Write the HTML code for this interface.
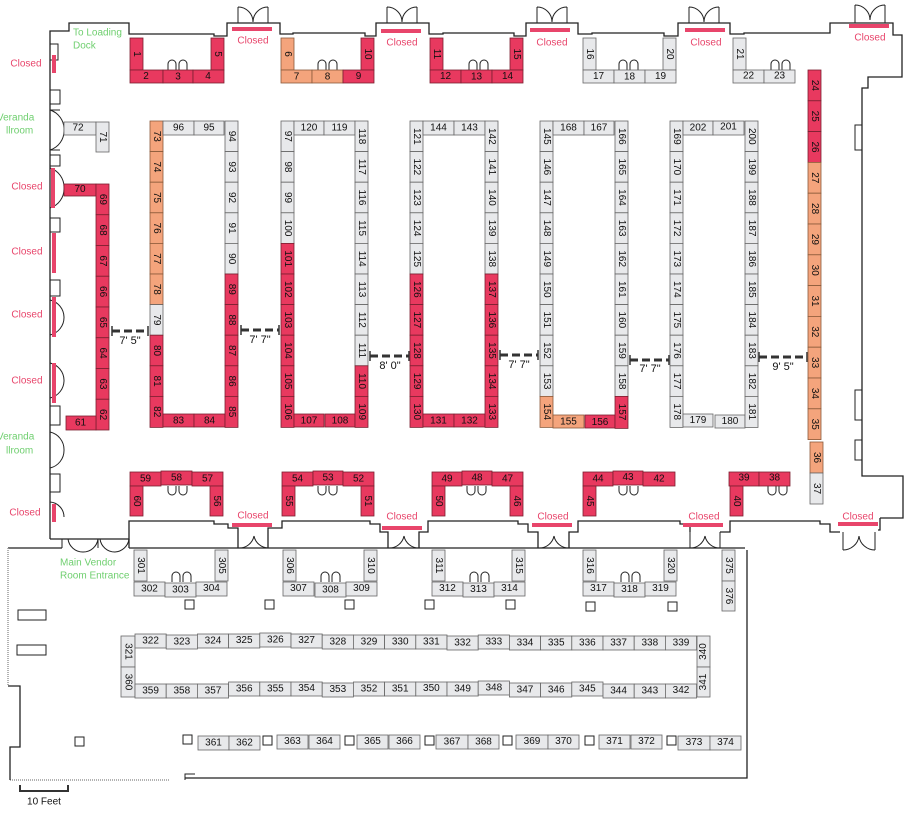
<!DOCTYPE html>
<html><head><meta charset="utf-8"><style>
html,body{margin:0;padding:0;background:#fff;}
svg{display:block}
text{font-family:"Liberation Sans",sans-serif;font-size:10px;text-anchor:middle;dominant-baseline:central;fill:#111}
.r{fill:#e8395f;stroke:#7a2030;stroke-width:.8}
.o{fill:#f4a47c;stroke:#8a5a3a;stroke-width:.8}
.g{fill:#e8e9eb;stroke:#666;stroke-width:.8}
.w{fill:none;stroke:#222;stroke-width:1.3}
.cl{fill:#e8456b;font-size:10px}
.gr{fill:#6fcf6f;font-size:10px;text-anchor:start}
.bar{fill:#e8456b}
.dim{stroke:#333;stroke-width:3;stroke-dasharray:8 4;fill:none}
.dt{font-size:11px}
.p{fill:#fff;stroke:#222;stroke-width:1}
.d{fill:none;stroke:#222;stroke-width:1}
</style></head><body>
<svg width="915" height="815" viewBox="0 0 915 815" xmlns="http://www.w3.org/2000/svg">
<!-- walls -->
<path class="w" d="M50,539 V31 H69 V23 H129 V34 H214 V36 H227 V23 H280 V34 H293 V33 H365 V36 H376 V23 H429 V34 H443 V33 H514 V36 H526 V23 H578 V34 H592 V33 H664 V36 H678 V23 H730 V34 H744 V33 H818 V33 H830 V23 H893 V35 H902 V77 H868 V88 H862 V476 H903 V518 H880"/>
<path class="w" d="M50,539 H129 V521 H214 V524 H228 V528 H238 V548 M268,548 V528 H282 V521 H370 V524 H380 V532 H388 V548 M419,548 V532 H428 V521 H518 V524 H528 V532 H538 V548 M569,548 V532 H578 V521 H680 V524 H690 V532 M720,532 H730 V521 H820 V524 H830 V532 H840 M880,518 V530 H878"/>
<path class="w" d="M129,548 H745 M747,550 V778 H185 M8,548 H62 M129,548 V539"/>
<path d="M8,548 V686 M10,780 H170" stroke="#999" stroke-width="1.5" stroke-dasharray="1 1" fill="none"/>
<path class="w" d="M8,686 H20 V747 H10 V780"/>
<!-- door arcs -->
<path class="d" d="M238,23 V7 M268,23 V7 M238,7 A15,15 0 0 1 253,22 M268,7 A15,15 0 0 0 253,22 M387,23 V7 M417,23 V7 M387,7 A15,15 0 0 1 402,22 M417,7 A15,15 0 0 0 402,22 M537,23 V7 M567,23 V7 M537,7 A15,15 0 0 1 552,22 M567,7 A15,15 0 0 0 552,22 M689,23 V7 M719,23 V7 M689,7 A15,15 0 0 1 704,22 M719,7 A15,15 0 0 0 704,22 M855,23 V5 M885,23 V5 M855,5 A15,15 0 0 1 870,20 M885,5 A15,15 0 0 0 870,20"/>
<path class="d" d="M239,548 A15,15 0 0 0 254,536 M268,548 A15,15 0 0 1 254,536 M389,548 A15,15 0 0 0 404,536 M419,548 A15,15 0 0 1 404,536 M539,548 A15,15 0 0 0 554,536 M569,548 A15,15 0 0 1 554,536 M690,548 V532 M720,548 V532 M690,548 A15,15 0 0 0 705,536 M720,548 A15,15 0 0 1 705,536 M843,550 V532 M875,550 V532 M843,550 A16,16 0 0 0 859,536 M875,550 A16,16 0 0 1 859,536"/>
<path class="d" d="M62,539 V548 M98,539 V548 M129,539 V548 M68,539 A15,15 0 0 0 83,552 M98,539 A15,15 0 0 1 83,552 M100,539 A15,15 0 0 0 115,552 M129,539 A15,15 0 0 1 115,552"/>
<path class="d" d="M50,110 H60 M50,150 H60 M50,110 A20,20 0 0 1 64,130 M50,150 A20,20 0 0 0 64,130 M50,168 A20,20 0 0 1 64,188 M50,208 A20,20 0 0 0 64,188 M50,300 A18,18 0 0 1 64,317 M50,335 A18,18 0 0 0 64,317 M50,363 A18,18 0 0 1 64,380 M50,398 A18,18 0 0 0 64,380 M50,432 A18,18 0 0 1 64,450 M50,468 A18,18 0 0 0 64,450 M50,502 A15,15 0 0 1 64,517"/>
<path class="d" d="M50,44 H58 V60 H50 M50,90 H60 V104 H50 M50,155 H60 V166 H50 M50,218 H60 V232 H50 M50,280 H60 V296 H50 M50,406 H60 V425 H50 M50,474 H60 V492 H50 M862,150 H855 V125 H862 M862,390 H855 V420 H862 M862,440 H855 V460 H862"/>
<!-- small arches -->
<path class="d" d="M168,70 V64 A4,4 0 0 1 176,64 V70 M179,70 V64 A4,4 0 0 1 187,64 V70 M318,70 V64 A4,4 0 0 1 326,64 V70 M329,70 V64 A4,4 0 0 1 337,64 V70 M469,70 V64 A4,4 0 0 1 477,64 V70 M480,70 V64 A4,4 0 0 1 488,64 V70 M619,70 V64 A4,4 0 0 1 627,64 V70 M630,70 V64 A4,4 0 0 1 638,64 V70 M771,70 V64 A4,4 0 0 1 779,64 V70 M782,70 V64 A4,4 0 0 1 790,64 V70"/>
<path class="d" d="M168,486 V491 A4,4 0 0 0 176,491 V486 M179,486 V491 A4,4 0 0 0 187,491 V486 M318,486 V491 A4,4 0 0 0 326,491 V486 M329,486 V491 A4,4 0 0 0 337,491 V486 M467,486 V491 A4,4 0 0 0 475,491 V486 M478,486 V491 A4,4 0 0 0 486,491 V486 M619,486 V491 A4,4 0 0 0 627,491 V486 M630,486 V491 A4,4 0 0 0 638,491 V486 M768,486 V491 A4,4 0 0 0 776,491 V486 M779,486 V491 A4,4 0 0 0 787,491 V486"/>
<path class="d" d="M172,582 V576 A4,4 0 0 1 180,576 V582 M183,582 V576 A4,4 0 0 1 191,576 V582 M321,582 V576 A4,4 0 0 1 329,576 V582 M332,582 V576 A4,4 0 0 1 340,576 V582 M470,582 V576 A4,4 0 0 1 478,576 V582 M481,582 V576 A4,4 0 0 1 489,576 V582 M621,582 V576 A4,4 0 0 1 629,576 V582 M632,582 V576 A4,4 0 0 1 640,576 V582"/>

<!-- closed bars & labels -->
<rect class="bar" x="232" y="27" width="40" height="4"/><text class="cl" x="253" y="41">Closed</text>
<rect class="bar" x="381" y="29" width="40" height="4"/><text class="cl" x="402" y="43">Closed</text>
<rect class="bar" x="530" y="28" width="40" height="4"/><text class="cl" x="552" y="43">Closed</text>
<rect class="bar" x="685" y="28" width="40" height="4"/><text class="cl" x="706" y="43">Closed</text>
<rect class="bar" x="849" y="24" width="40" height="4"/><text class="cl" x="870" y="38">Closed</text>
<rect class="bar" x="52" y="55" width="4" height="18"/><text class="cl" x="26" y="64">Closed</text>
<rect class="bar" x="51" y="168" width="4" height="40"/><text class="cl" x="27" y="187">Closed</text>
<rect class="bar" x="52" y="233" width="4" height="40"/><text class="cl" x="27" y="252">Closed</text>
<rect class="bar" x="52" y="297" width="4" height="40"/><text class="cl" x="27" y="315">Closed</text>
<rect class="bar" x="52" y="363" width="4" height="40"/><text class="cl" x="27" y="381">Closed</text>
<rect class="bar" x="52" y="504" width="4" height="18"/><text class="cl" x="25" y="513">Closed</text>
<rect class="bar" x="232" y="523" width="40" height="4"/><text class="cl" x="253" y="516">Closed</text>
<rect class="bar" x="382" y="526" width="40" height="4"/><text class="cl" x="402" y="517">Closed</text>
<rect class="bar" x="532" y="523" width="40" height="4"/><text class="cl" x="553" y="517">Closed</text>
<rect class="bar" x="683" y="523" width="40" height="4"/><text class="cl" x="704" y="517">Closed</text>
<rect class="bar" x="838" y="522" width="40" height="4"/><text class="cl" x="858" y="517">Closed</text>

<text class="gr" x="73" y="33">To Loading</text><text class="gr" x="73" y="46">Dock</text>
<text class="gr" x="-3" y="118">Veranda</text><text class="gr" x="6" y="131">llroom</text>
<text class="gr" x="-3" y="437">Veranda</text><text class="gr" x="6" y="451">llroom</text>
<text class="gr" x="60" y="563">Main Vendor</text><text class="gr" x="60" y="576">Room Entrance</text>

<!-- dimension lines -->
<path class="dim" d="M112,331 H148"/><path d="M112,326 V336 M148,326 V336" stroke="#333" stroke-width="1.5"/><text class="dt" x="130" y="341">7' 5"</text>
<path class="dim" d="M241,330 H279"/><path d="M241,325 V335 M279,325 V335" stroke="#333" stroke-width="1.5"/><text class="dt" x="260" y="340">7' 7"</text>
<path class="dim" d="M370,356 H409"/><path d="M370,351 V361 M409,351 V361" stroke="#333" stroke-width="1.5"/><text class="dt" x="390" y="366">8' 0"</text>
<path class="dim" d="M500,355 H538"/><path d="M500,350 V360 M538,350 V360" stroke="#333" stroke-width="1.5"/><text class="dt" x="519" y="365">7' 7"</text>
<path class="dim" d="M630,360 H669"/><path d="M630,355 V365 M669,355 V365" stroke="#333" stroke-width="1.5"/><text class="dt" x="650" y="369">7' 7"</text>
<path class="dim" d="M759,357 H807"/><path d="M759,352 V362 M807,352 V362" stroke="#333" stroke-width="1.5"/><text class="dt" x="783" y="367">9' 5"</text>

<!-- pillars -->
<rect class="p" x="185" y="600" width="9" height="9"/><rect class="p" x="265" y="600" width="9" height="9"/><rect class="p" x="345" y="600" width="9" height="9"/><rect class="p" x="425" y="600" width="9" height="9"/><rect class="p" x="506" y="600" width="9" height="9"/><rect class="p" x="586" y="602" width="9" height="9"/><rect class="p" x="668" y="602" width="9" height="9"/>
<rect class="p" x="75" y="737" width="9" height="9"/><rect class="p" x="183" y="735" width="9" height="9"/><rect class="p" x="263" y="736" width="9" height="9"/><rect class="p" x="345" y="736" width="9" height="9"/><rect class="p" x="425" y="736" width="9" height="9"/><rect class="p" x="503" y="736" width="9" height="9"/><rect class="p" x="585" y="736" width="9" height="9"/><rect class="p" x="667" y="736" width="9" height="9"/>
<rect class="p" x="18" y="610" width="28" height="10"/><rect class="p" x="17" y="645" width="29" height="10"/>
<path class="d" d="M185,780 V774 H195"/>
<path d="M20,785 V791 H68 V785" stroke="#333" stroke-width="2" fill="none"/><text x="44" y="802">10 Feet</text>

<!-- top groups -->
<rect class="r" x="130" y="38" width="13" height="32"/><text x="136.5" y="54" transform="rotate(90 136.5 54)">1</text>
<rect class="r" x="211" y="38" width="13" height="32"/><text x="217.5" y="54" transform="rotate(90 217.5 54)">5</text>
<rect class="r" x="130" y="70" width="33" height="13"/><text x="146" y="76.5">2</text>
<rect class="r" x="163" y="70" width="30" height="13"/><text x="178" y="77">3</text>
<rect class="r" x="193" y="70" width="31" height="13"/><text x="208" y="76.5">4</text>
<rect class="o" x="281" y="38" width="13" height="32"/><text x="287.5" y="54" transform="rotate(90 287.5 54)">6</text>
<rect class="r" x="361" y="38" width="13" height="32"/><text x="367.5" y="54" transform="rotate(90 367.5 54)">10</text>
<rect class="o" x="281" y="70" width="31" height="13"/><text x="296.5" y="77">7</text>
<rect class="o" x="312" y="70" width="31" height="13"/><text x="327.5" y="77">8</text>
<rect class="r" x="343" y="70" width="31" height="13"/><text x="358.5" y="76.5">9</text>
<rect class="r" x="430" y="38" width="13" height="32"/><text x="436.5" y="54" transform="rotate(90 436.5 54)">11</text>
<rect class="r" x="510" y="38" width="13" height="32"/><text x="516.5" y="54" transform="rotate(90 516.5 54)">15</text>
<rect class="r" x="430" y="70" width="31" height="13"/><text x="445.5" y="76.5">12</text>
<rect class="r" x="461" y="70" width="31" height="13"/><text x="476.5" y="77">13</text>
<rect class="r" x="492" y="70" width="31" height="13"/><text x="507.5" y="76.5">14</text>
<rect class="g" x="583" y="38" width="13" height="32"/><text x="589.5" y="54" transform="rotate(90 589.5 54)">16</text>
<rect class="g" x="663" y="38" width="13" height="32"/><text x="669.5" y="54" transform="rotate(90 669.5 54)">20</text>
<rect class="g" x="583" y="70" width="31" height="13"/><text x="598.5" y="76.5">17</text>
<rect class="g" x="614" y="70" width="31" height="13"/><text x="629.5" y="77">18</text>
<rect class="g" x="645" y="70" width="31" height="13"/><text x="660.5" y="76.5">19</text>
<rect class="g" x="733" y="38" width="13" height="32"/><text x="739.5" y="54" transform="rotate(90 739.5 54)">21</text>
<rect class="g" x="733" y="70" width="31" height="13"/><text x="748.5" y="76">22</text>
<rect class="g" x="764" y="70" width="31" height="13"/><text x="779.5" y="76">23</text>

<!-- right column 24-37 -->
<rect class="r" x="808" y="70" width="13" height="30.8"/><text x="814.5" y="85.4" transform="rotate(90 814.5 85.4)">24</text>
<rect class="r" x="808" y="100.8" width="13" height="30.8"/><text x="814.5" y="116.2" transform="rotate(90 814.5 116.2)">25</text>
<rect class="r" x="808" y="131.6" width="13" height="30.8"/><text x="814.5" y="147" transform="rotate(90 814.5 147)">26</text>
<rect class="o" x="808" y="162.4" width="13" height="30.8"/><text x="814.5" y="177.8" transform="rotate(90 814.5 177.8)">27</text>
<rect class="o" x="808" y="193.2" width="13" height="30.8"/><text x="814.5" y="208.6" transform="rotate(90 814.5 208.6)">28</text>
<rect class="o" x="808" y="224" width="13" height="30.8"/><text x="814.5" y="239.4" transform="rotate(90 814.5 239.4)">29</text>
<rect class="o" x="808" y="254.8" width="13" height="30.8"/><text x="814.5" y="270.2" transform="rotate(90 814.5 270.2)">30</text>
<rect class="o" x="808" y="285.6" width="13" height="30.8"/><text x="814.5" y="301" transform="rotate(90 814.5 301)">31</text>
<rect class="o" x="808" y="316.4" width="13" height="30.8"/><text x="814.5" y="331.8" transform="rotate(90 814.5 331.8)">32</text>
<rect class="o" x="808" y="347.2" width="13" height="30.8"/><text x="814.5" y="362.6" transform="rotate(90 814.5 362.6)">33</text>
<rect class="o" x="808" y="378" width="13" height="30.8"/><text x="814.5" y="393.4" transform="rotate(90 814.5 393.4)">34</text>
<rect class="o" x="808" y="408.8" width="13" height="30.8"/><text x="814.5" y="424.2" transform="rotate(90 814.5 424.2)">35</text>
<rect class="o" x="810" y="442" width="13" height="31"/><text x="816.5" y="457.5" transform="rotate(90 816.5 457.5)">36</text>
<rect class="g" x="810" y="473" width="13" height="31"/><text x="816.5" y="488.5" transform="rotate(90 816.5 488.5)">37</text>

<!-- left column 61-72 -->
<rect class="g" x="64" y="122" width="32" height="13"/><text x="78" y="128">72</text>
<rect class="g" x="96" y="122" width="13" height="30"/><text x="102.5" y="137" transform="rotate(90 102.5 137)">71</text>
<rect class="r" x="64" y="184" width="32" height="12"/><text x="80" y="189.5">70</text>
<rect class="r" x="96" y="184" width="13" height="30.75"/><text x="102.5" y="199.4" transform="rotate(90 102.5 199.4)">69</text>
<rect class="r" x="96" y="214.75" width="13" height="30.75"/><text x="102.5" y="230.1" transform="rotate(90 102.5 230.1)">68</text>
<rect class="r" x="96" y="245.5" width="13" height="30.75"/><text x="102.5" y="260.9" transform="rotate(90 102.5 260.9)">67</text>
<rect class="r" x="96" y="276.25" width="13" height="30.75"/><text x="102.5" y="291.6" transform="rotate(90 102.5 291.6)">66</text>
<rect class="r" x="96" y="307" width="13" height="30.75"/><text x="102.5" y="322.4" transform="rotate(90 102.5 322.4)">65</text>
<rect class="r" x="96" y="337.75" width="13" height="30.75"/><text x="102.5" y="353.1" transform="rotate(90 102.5 353.1)">64</text>
<rect class="r" x="96" y="368.5" width="13" height="30.75"/><text x="102.5" y="383.9" transform="rotate(90 102.5 383.9)">63</text>
<rect class="r" x="96" y="399.25" width="13" height="30.75"/><text x="102.5" y="414.6" transform="rotate(90 102.5 414.6)">62</text>
<rect class="r" x="66" y="416" width="30" height="14"/><text x="80.5" y="423">61</text>

<!-- U1 -->
<rect class="o" x="150" y="121" width="13" height="30.6"/><text x="156.5" y="136.3" transform="rotate(90 156.5 136.3)">73</text>
<rect class="o" x="150" y="151.6" width="13" height="30.6"/><text x="156.5" y="166.9" transform="rotate(90 156.5 166.9)">74</text>
<rect class="o" x="150" y="182.2" width="13" height="30.6"/><text x="156.5" y="197.5" transform="rotate(90 156.5 197.5)">75</text>
<rect class="o" x="150" y="212.8" width="13" height="30.6"/><text x="156.5" y="228.1" transform="rotate(90 156.5 228.1)">76</text>
<rect class="o" x="150" y="243.4" width="13" height="30.6"/><text x="156.5" y="258.7" transform="rotate(90 156.5 258.7)">77</text>
<rect class="o" x="150" y="274" width="13" height="30.6"/><text x="156.5" y="289.3" transform="rotate(90 156.5 289.3)">78</text>
<rect class="g" x="150" y="304.6" width="13" height="30.6"/><text x="156.5" y="319.9" transform="rotate(90 156.5 319.9)">79</text>
<rect class="r" x="150" y="335.2" width="13" height="30.6"/><text x="156.5" y="350.5" transform="rotate(90 156.5 350.5)">80</text>
<rect class="r" x="150" y="365.8" width="13" height="30.6"/><text x="156.5" y="381.1" transform="rotate(90 156.5 381.1)">81</text>
<rect class="r" x="150" y="396.4" width="13" height="31"/><text x="156.5" y="411.7" transform="rotate(90 156.5 411.7)">82</text>
<rect class="g" x="163" y="121" width="31" height="14"/><text x="178.5" y="128">96</text>
<rect class="g" x="194" y="121" width="30" height="14"/><text x="209" y="128">95</text>
<rect class="r" x="163" y="414" width="31" height="13"/><text x="178.5" y="421">83</text>
<rect class="r" x="194" y="414" width="31" height="13"/><text x="209.5" y="421">84</text>
<rect class="g" x="225" y="121" width="13" height="30.6"/><text x="231.5" y="136.3" transform="rotate(90 231.5 136.3)">94</text>
<rect class="g" x="225" y="151.6" width="13" height="30.6"/><text x="231.5" y="166.9" transform="rotate(90 231.5 166.9)">93</text>
<rect class="g" x="225" y="182.2" width="13" height="30.6"/><text x="231.5" y="197.5" transform="rotate(90 231.5 197.5)">92</text>
<rect class="g" x="225" y="212.8" width="13" height="30.6"/><text x="231.5" y="228.1" transform="rotate(90 231.5 228.1)">91</text>
<rect class="g" x="225" y="243.4" width="13" height="30.6"/><text x="231.5" y="258.7" transform="rotate(90 231.5 258.7)">90</text>
<rect class="r" x="225" y="274" width="13" height="30.6"/><text x="231.5" y="289.3" transform="rotate(90 231.5 289.3)">89</text>
<rect class="r" x="225" y="304.6" width="13" height="30.6"/><text x="231.5" y="319.9" transform="rotate(90 231.5 319.9)">88</text>
<rect class="r" x="225" y="335.2" width="13" height="30.6"/><text x="231.5" y="350.5" transform="rotate(90 231.5 350.5)">87</text>
<rect class="r" x="225" y="365.8" width="13" height="30.6"/><text x="231.5" y="381.1" transform="rotate(90 231.5 381.1)">86</text>
<rect class="r" x="225" y="396.4" width="13" height="31"/><text x="231.5" y="411.7" transform="rotate(90 231.5 411.7)">85</text>

<!-- U2 -->
<rect class="g" x="281" y="121" width="13" height="30.6"/><text x="287.5" y="136.3" transform="rotate(90 287.5 136.3)">97</text>
<rect class="g" x="281" y="151.6" width="13" height="30.6"/><text x="287.5" y="166.9" transform="rotate(90 287.5 166.9)">98</text>
<rect class="g" x="281" y="182.2" width="13" height="30.6"/><text x="287.5" y="197.5" transform="rotate(90 287.5 197.5)">99</text>
<rect class="g" x="281" y="212.8" width="13" height="30.6"/><text x="287.5" y="228.1" transform="rotate(90 287.5 228.1)">100</text>
<rect class="r" x="281" y="243.4" width="13" height="30.6"/><text x="287.5" y="258.7" transform="rotate(90 287.5 258.7)">101</text>
<rect class="r" x="281" y="274" width="13" height="30.6"/><text x="287.5" y="289.3" transform="rotate(90 287.5 289.3)">102</text>
<rect class="r" x="281" y="304.6" width="13" height="30.6"/><text x="287.5" y="319.9" transform="rotate(90 287.5 319.9)">103</text>
<rect class="r" x="281" y="335.2" width="13" height="30.6"/><text x="287.5" y="350.5" transform="rotate(90 287.5 350.5)">104</text>
<rect class="r" x="281" y="365.8" width="13" height="30.6"/><text x="287.5" y="381.1" transform="rotate(90 287.5 381.1)">105</text>
<rect class="r" x="281" y="396.4" width="13" height="31"/><text x="287.5" y="411.7" transform="rotate(90 287.5 411.7)">106</text>
<rect class="g" x="294" y="121" width="30" height="14"/><text x="309" y="128">120</text>
<rect class="g" x="324" y="121" width="31" height="14"/><text x="339.5" y="128">119</text>
<rect class="r" x="294" y="414" width="30" height="13"/><text x="309" y="421">107</text>
<rect class="r" x="325" y="414" width="30" height="13"/><text x="340" y="421">108</text>
<rect class="g" x="355" y="121" width="13" height="30.6"/><text x="361.5" y="136.3" transform="rotate(90 361.5 136.3)">118</text>
<rect class="g" x="355" y="151.6" width="13" height="30.6"/><text x="361.5" y="166.9" transform="rotate(90 361.5 166.9)">117</text>
<rect class="g" x="355" y="182.2" width="13" height="30.6"/><text x="361.5" y="197.5" transform="rotate(90 361.5 197.5)">116</text>
<rect class="g" x="355" y="212.8" width="13" height="30.6"/><text x="361.5" y="228.1" transform="rotate(90 361.5 228.1)">115</text>
<rect class="g" x="355" y="243.4" width="13" height="30.6"/><text x="361.5" y="258.7" transform="rotate(90 361.5 258.7)">114</text>
<rect class="g" x="355" y="274" width="13" height="30.6"/><text x="361.5" y="289.3" transform="rotate(90 361.5 289.3)">113</text>
<rect class="g" x="355" y="304.6" width="13" height="30.6"/><text x="361.5" y="319.9" transform="rotate(90 361.5 319.9)">112</text>
<rect class="g" x="355" y="335.2" width="13" height="30.6"/><text x="361.5" y="350.5" transform="rotate(90 361.5 350.5)">111</text>
<rect class="r" x="355" y="365.8" width="13" height="30.6"/><text x="361.5" y="381.1" transform="rotate(90 361.5 381.1)">110</text>
<rect class="r" x="355" y="396.4" width="13" height="31"/><text x="361.5" y="411.7" transform="rotate(90 361.5 411.7)">109</text>

<!-- U3 -->
<rect class="g" x="410" y="121" width="13" height="30.6"/><text x="416.5" y="136.3" transform="rotate(90 416.5 136.3)">121</text>
<rect class="g" x="410" y="151.6" width="13" height="30.6"/><text x="416.5" y="166.9" transform="rotate(90 416.5 166.9)">122</text>
<rect class="g" x="410" y="182.2" width="13" height="30.6"/><text x="416.5" y="197.5" transform="rotate(90 416.5 197.5)">123</text>
<rect class="g" x="410" y="212.8" width="13" height="30.6"/><text x="416.5" y="228.1" transform="rotate(90 416.5 228.1)">124</text>
<rect class="g" x="410" y="243.4" width="13" height="30.6"/><text x="416.5" y="258.7" transform="rotate(90 416.5 258.7)">125</text>
<rect class="r" x="410" y="274" width="13" height="30.6"/><text x="416.5" y="289.3" transform="rotate(90 416.5 289.3)">126</text>
<rect class="r" x="410" y="304.6" width="13" height="30.6"/><text x="416.5" y="319.9" transform="rotate(90 416.5 319.9)">127</text>
<rect class="r" x="410" y="335.2" width="13" height="30.6"/><text x="416.5" y="350.5" transform="rotate(90 416.5 350.5)">128</text>
<rect class="r" x="410" y="365.8" width="13" height="30.6"/><text x="416.5" y="381.1" transform="rotate(90 416.5 381.1)">129</text>
<rect class="r" x="410" y="396.4" width="13" height="31"/><text x="416.5" y="411.7" transform="rotate(90 416.5 411.7)">130</text>
<rect class="g" x="423" y="121" width="31" height="14"/><text x="438.5" y="128">144</text>
<rect class="g" x="454" y="121" width="31" height="14"/><text x="469.5" y="128">143</text>
<rect class="r" x="423" y="414" width="31" height="13"/><text x="438.5" y="421">131</text>
<rect class="r" x="454" y="414" width="31" height="13"/><text x="469.5" y="421">132</text>
<rect class="g" x="485" y="121" width="13" height="30.6"/><text x="491.5" y="136.3" transform="rotate(90 491.5 136.3)">142</text>
<rect class="g" x="485" y="151.6" width="13" height="30.6"/><text x="491.5" y="166.9" transform="rotate(90 491.5 166.9)">141</text>
<rect class="g" x="485" y="182.2" width="13" height="30.6"/><text x="491.5" y="197.5" transform="rotate(90 491.5 197.5)">140</text>
<rect class="g" x="485" y="212.8" width="13" height="30.6"/><text x="491.5" y="228.1" transform="rotate(90 491.5 228.1)">139</text>
<rect class="g" x="485" y="243.4" width="13" height="30.6"/><text x="491.5" y="258.7" transform="rotate(90 491.5 258.7)">138</text>
<rect class="r" x="485" y="274" width="13" height="30.6"/><text x="491.5" y="289.3" transform="rotate(90 491.5 289.3)">137</text>
<rect class="r" x="485" y="304.6" width="13" height="30.6"/><text x="491.5" y="319.9" transform="rotate(90 491.5 319.9)">136</text>
<rect class="r" x="485" y="335.2" width="13" height="30.6"/><text x="491.5" y="350.5" transform="rotate(90 491.5 350.5)">135</text>
<rect class="r" x="485" y="365.8" width="13" height="30.6"/><text x="491.5" y="381.1" transform="rotate(90 491.5 381.1)">134</text>
<rect class="r" x="485" y="396.4" width="13" height="31"/><text x="491.5" y="411.7" transform="rotate(90 491.5 411.7)">133</text>

<!-- U4 -->
<rect class="g" x="540" y="121" width="13" height="30.6"/><text x="546.5" y="136.3" transform="rotate(90 546.5 136.3)">145</text>
<rect class="g" x="540" y="151.6" width="13" height="30.6"/><text x="546.5" y="166.9" transform="rotate(90 546.5 166.9)">146</text>
<rect class="g" x="540" y="182.2" width="13" height="30.6"/><text x="546.5" y="197.5" transform="rotate(90 546.5 197.5)">147</text>
<rect class="g" x="540" y="212.8" width="13" height="30.6"/><text x="546.5" y="228.1" transform="rotate(90 546.5 228.1)">148</text>
<rect class="g" x="540" y="243.4" width="13" height="30.6"/><text x="546.5" y="258.7" transform="rotate(90 546.5 258.7)">149</text>
<rect class="g" x="540" y="274" width="13" height="30.6"/><text x="546.5" y="289.3" transform="rotate(90 546.5 289.3)">150</text>
<rect class="g" x="540" y="304.6" width="13" height="30.6"/><text x="546.5" y="319.9" transform="rotate(90 546.5 319.9)">151</text>
<rect class="g" x="540" y="335.2" width="13" height="30.6"/><text x="546.5" y="350.5" transform="rotate(90 546.5 350.5)">152</text>
<rect class="g" x="540" y="365.8" width="13" height="30.6"/><text x="546.5" y="381.1" transform="rotate(90 546.5 381.1)">153</text>
<rect class="o" x="540" y="396.4" width="13" height="31"/><text x="546.5" y="411.7" transform="rotate(90 546.5 411.7)">154</text>
<rect class="g" x="553" y="121" width="31" height="14"/><text x="568.5" y="128">168</text>
<rect class="g" x="584" y="121" width="30" height="14"/><text x="599" y="128">167</text>
<rect class="o" x="553" y="415" width="31" height="13"/><text x="568.5" y="422">155</text>
<rect class="r" x="585" y="415" width="30" height="13"/><text x="600" y="422.5">156</text>
<rect class="g" x="615" y="121" width="13" height="30.6"/><text x="621.5" y="136.3" transform="rotate(90 621.5 136.3)">166</text>
<rect class="g" x="615" y="151.6" width="13" height="30.6"/><text x="621.5" y="166.9" transform="rotate(90 621.5 166.9)">165</text>
<rect class="g" x="615" y="182.2" width="13" height="30.6"/><text x="621.5" y="197.5" transform="rotate(90 621.5 197.5)">164</text>
<rect class="g" x="615" y="212.8" width="13" height="30.6"/><text x="621.5" y="228.1" transform="rotate(90 621.5 228.1)">163</text>
<rect class="g" x="615" y="243.4" width="13" height="30.6"/><text x="621.5" y="258.7" transform="rotate(90 621.5 258.7)">162</text>
<rect class="g" x="615" y="274" width="13" height="30.6"/><text x="621.5" y="289.3" transform="rotate(90 621.5 289.3)">161</text>
<rect class="g" x="615" y="304.6" width="13" height="30.6"/><text x="621.5" y="319.9" transform="rotate(90 621.5 319.9)">160</text>
<rect class="g" x="615" y="335.2" width="13" height="30.6"/><text x="621.5" y="350.5" transform="rotate(90 621.5 350.5)">159</text>
<rect class="g" x="615" y="365.8" width="13" height="30.6"/><text x="621.5" y="381.1" transform="rotate(90 621.5 381.1)">158</text>
<rect class="r" x="615" y="396.4" width="13" height="32"/><text x="621.5" y="412" transform="rotate(90 621.5 412)">157</text>

<!-- U5 -->
<rect class="g" x="670" y="121" width="13" height="30.6"/><text x="676.5" y="136.3" transform="rotate(90 676.5 136.3)">169</text>
<rect class="g" x="670" y="151.6" width="13" height="30.6"/><text x="676.5" y="166.9" transform="rotate(90 676.5 166.9)">170</text>
<rect class="g" x="670" y="182.2" width="13" height="30.6"/><text x="676.5" y="197.5" transform="rotate(90 676.5 197.5)">171</text>
<rect class="g" x="670" y="212.8" width="13" height="30.6"/><text x="676.5" y="228.1" transform="rotate(90 676.5 228.1)">172</text>
<rect class="g" x="670" y="243.4" width="13" height="30.6"/><text x="676.5" y="258.7" transform="rotate(90 676.5 258.7)">173</text>
<rect class="g" x="670" y="274" width="13" height="30.6"/><text x="676.5" y="289.3" transform="rotate(90 676.5 289.3)">174</text>
<rect class="g" x="670" y="304.6" width="13" height="30.6"/><text x="676.5" y="319.9" transform="rotate(90 676.5 319.9)">175</text>
<rect class="g" x="670" y="335.2" width="13" height="30.6"/><text x="676.5" y="350.5" transform="rotate(90 676.5 350.5)">176</text>
<rect class="g" x="670" y="365.8" width="13" height="30.6"/><text x="676.5" y="381.1" transform="rotate(90 676.5 381.1)">177</text>
<rect class="g" x="670" y="396.4" width="13" height="31"/><text x="676.5" y="411.7" transform="rotate(90 676.5 411.7)">178</text>
<rect class="g" x="683" y="121" width="30" height="14"/><text x="698" y="128">202</text>
<rect class="g" x="713" y="121" width="31" height="14"/><text x="728.5" y="127">201</text>
<rect class="g" x="683" y="414" width="30" height="13"/><text x="698" y="420.5">179</text>
<rect class="g" x="715" y="415" width="30" height="13"/><text x="730" y="421.5">180</text>
<rect class="g" x="745" y="121" width="13" height="30.6"/><text x="751.5" y="136.3" transform="rotate(90 751.5 136.3)">200</text>
<rect class="g" x="745" y="151.6" width="13" height="30.6"/><text x="751.5" y="166.9" transform="rotate(90 751.5 166.9)">199</text>
<rect class="g" x="745" y="182.2" width="13" height="30.6"/><text x="751.5" y="197.5" transform="rotate(90 751.5 197.5)">188</text>
<rect class="g" x="745" y="212.8" width="13" height="30.6"/><text x="751.5" y="228.1" transform="rotate(90 751.5 228.1)">187</text>
<rect class="g" x="745" y="243.4" width="13" height="30.6"/><text x="751.5" y="258.7" transform="rotate(90 751.5 258.7)">186</text>
<rect class="g" x="745" y="274" width="13" height="30.6"/><text x="751.5" y="289.3" transform="rotate(90 751.5 289.3)">185</text>
<rect class="g" x="745" y="304.6" width="13" height="30.6"/><text x="751.5" y="319.9" transform="rotate(90 751.5 319.9)">184</text>
<rect class="g" x="745" y="335.2" width="13" height="30.6"/><text x="751.5" y="350.5" transform="rotate(90 751.5 350.5)">183</text>
<rect class="g" x="745" y="365.8" width="13" height="30.6"/><text x="751.5" y="381.1" transform="rotate(90 751.5 381.1)">182</text>
<rect class="g" x="745" y="396.4" width="13" height="31"/><text x="751.5" y="411.7" transform="rotate(90 751.5 411.7)">181</text>

<!-- bottom groups of main hall -->
<rect class="r" x="130" y="472" width="31" height="14"/><text x="145.5" y="479">59</text>
<rect class="r" x="161" y="471" width="31" height="14"/><text x="176.5" y="478">58</text>
<rect class="r" x="192" y="472" width="31" height="14"/><text x="207.5" y="479">57</text>
<rect class="r" x="130" y="486" width="13" height="30"/><text x="136.5" y="501" transform="rotate(90 136.5 501)">60</text>
<rect class="r" x="210" y="486" width="13" height="30"/><text x="216.5" y="501" transform="rotate(90 216.5 501)">56</text>
<rect class="r" x="282" y="472" width="31" height="14"/><text x="297.5" y="479">54</text>
<rect class="r" x="313" y="471" width="30" height="14"/><text x="328" y="478">53</text>
<rect class="r" x="343" y="472" width="31" height="14"/><text x="358.5" y="479">52</text>
<rect class="r" x="282" y="486" width="13" height="30"/><text x="288.5" y="501" transform="rotate(90 288.5 501)">55</text>
<rect class="r" x="361" y="486" width="13" height="30"/><text x="367.5" y="501" transform="rotate(90 367.5 501)">51</text>
<rect class="r" x="432" y="472" width="30" height="14"/><text x="447" y="479">49</text>
<rect class="r" x="462" y="471" width="30" height="14"/><text x="477" y="478">48</text>
<rect class="r" x="492" y="472" width="31" height="14"/><text x="507.5" y="479">47</text>
<rect class="r" x="432" y="486" width="13" height="30"/><text x="438.5" y="501" transform="rotate(90 438.5 501)">50</text>
<rect class="r" x="510" y="486" width="13" height="30"/><text x="516.5" y="501" transform="rotate(90 516.5 501)">46</text>
<rect class="r" x="583" y="472" width="30" height="14"/><text x="598" y="479">44</text>
<rect class="r" x="613" y="471" width="30" height="14"/><text x="628" y="477.5">43</text>
<rect class="r" x="643" y="472" width="32" height="14"/><text x="659" y="479">42</text>
<rect class="r" x="583" y="486" width="13" height="30"/><text x="589.5" y="501" transform="rotate(90 589.5 501)">45</text>
<rect class="r" x="729" y="472" width="30" height="14"/><text x="744" y="478">39</text>
<rect class="r" x="759" y="472" width="31" height="14"/><text x="774.5" y="478">38</text>
<rect class="r" x="730" y="486" width="13" height="30"/><text x="736.5" y="501" transform="rotate(90 736.5 501)">40</text>

<!-- lower hall groups -->
<rect class="g" x="134" y="550" width="13" height="31"/><text x="140.5" y="565.5" transform="rotate(90 140.5 565.5)">301</text>
<rect class="g" x="215" y="550" width="13" height="31"/><text x="221.5" y="565.5" transform="rotate(90 221.5 565.5)">305</text>
<rect class="g" x="134" y="582" width="31" height="14"/><text x="149.5" y="589">302</text>
<rect class="g" x="165" y="583" width="31" height="14"/><text x="180.5" y="590">303</text>
<rect class="g" x="196" y="582" width="31" height="14"/><text x="211.5" y="588.5">304</text>
<rect class="g" x="283" y="550" width="13" height="31"/><text x="289.5" y="565.5" transform="rotate(90 289.5 565.5)">306</text>
<rect class="g" x="364" y="550" width="13" height="31"/><text x="370.5" y="565.5" transform="rotate(90 370.5 565.5)">310</text>
<rect class="g" x="283" y="582" width="31" height="14"/><text x="298.5" y="588.5">307</text>
<rect class="g" x="315" y="583" width="31" height="14"/><text x="330.5" y="590">308</text>
<rect class="g" x="346" y="582" width="31" height="14"/><text x="361.5" y="588.5">309</text>
<rect class="g" x="432" y="550" width="13" height="31"/><text x="438.5" y="565.5" transform="rotate(90 438.5 565.5)">311</text>
<rect class="g" x="512" y="550" width="13" height="31"/><text x="518.5" y="565.5" transform="rotate(90 518.5 565.5)">315</text>
<rect class="g" x="432" y="582" width="31" height="14"/><text x="447.5" y="588.5">312</text>
<rect class="g" x="463" y="583" width="31" height="14"/><text x="478.5" y="589.5">313</text>
<rect class="g" x="494" y="582" width="31" height="14"/><text x="509.5" y="588.5">314</text>
<rect class="g" x="583" y="550" width="13" height="31"/><text x="589.5" y="565.5" transform="rotate(90 589.5 565.5)">316</text>
<rect class="g" x="664" y="550" width="13" height="31"/><text x="670.5" y="565.5" transform="rotate(90 670.5 565.5)">320</text>
<rect class="g" x="583" y="582" width="31" height="14"/><text x="598.5" y="588.5">317</text>
<rect class="g" x="614" y="583" width="31" height="14"/><text x="629.5" y="589.5">318</text>
<rect class="g" x="645" y="582" width="31" height="14"/><text x="660.5" y="588.5">319</text>
<rect class="g" x="722" y="550" width="13" height="31"/><text x="728.5" y="565.5" transform="rotate(90 728.5 565.5)">375</text>
<rect class="g" x="722" y="581" width="13" height="30"/><text x="728.5" y="596" transform="rotate(90 728.5 596)">376</text>

<!-- long row -->
<rect class="g" x="121" y="636" width="14" height="31"/><text x="128" y="651.5" transform="rotate(90 128 651.5)">321</text>
<rect class="g" x="121" y="667" width="14" height="30"/><text x="128" y="682" transform="rotate(90 128 682)">360</text>
<rect class="g" x="697" y="636" width="13" height="31"/><text x="703.5" y="651.5" transform="rotate(-90 703.5 651.5)">340</text>
<rect class="g" x="697" y="667" width="13" height="30"/><text x="703.5" y="682" transform="rotate(-90 703.5 682)">341</text>
<g>
<rect class="g" x="135" y="634" width="31.2" height="14"/><text x="150.6" y="641">322</text>
<rect class="g" x="166.2" y="635" width="31.2" height="14"/><text x="181.8" y="642">323</text>
<rect class="g" x="197.4" y="634" width="31.2" height="14"/><text x="213" y="641">324</text>
<rect class="g" x="228.6" y="634" width="31.2" height="14"/><text x="244.2" y="640.5">325</text>
<rect class="g" x="259.8" y="633" width="31.2" height="14"/><text x="275.4" y="640">326</text>
<rect class="g" x="291" y="634" width="31.2" height="14"/><text x="306.6" y="640.5">327</text>
<rect class="g" x="322.2" y="635" width="31.2" height="14"/><text x="337.8" y="642">328</text>
<rect class="g" x="353.4" y="635" width="31.2" height="14"/><text x="369" y="642">329</text>
<rect class="g" x="384.6" y="635" width="31.2" height="14"/><text x="400.2" y="642">330</text>
<rect class="g" x="415.8" y="635" width="31.2" height="14"/><text x="431.4" y="642">331</text>
<rect class="g" x="447" y="636" width="31.2" height="14"/><text x="462.6" y="643">332</text>
<rect class="g" x="478.2" y="635" width="31.2" height="14"/><text x="493.8" y="642">333</text>
<rect class="g" x="509.4" y="636" width="31.2" height="14"/><text x="525" y="643">334</text>
<rect class="g" x="540.6" y="636" width="31.2" height="14"/><text x="556.2" y="643">335</text>
<rect class="g" x="571.8" y="636" width="31.2" height="14"/><text x="587.4" y="643">336</text>
<rect class="g" x="603" y="636" width="31.2" height="14"/><text x="618.6" y="643">337</text>
<rect class="g" x="634.2" y="636" width="31.2" height="14"/><text x="649.8" y="643">338</text>
<rect class="g" x="665.4" y="636" width="31.2" height="14"/><text x="681" y="643">339</text>
<rect class="g" x="135" y="684" width="31.2" height="14"/><text x="150.6" y="691">359</text>
<rect class="g" x="166.2" y="684" width="31.2" height="14"/><text x="181.8" y="691">358</text>
<rect class="g" x="197.4" y="684" width="31.2" height="14"/><text x="213" y="691">357</text>
<rect class="g" x="228.6" y="682" width="31.2" height="14"/><text x="244.2" y="689">356</text>
<rect class="g" x="259.8" y="682" width="31.2" height="14"/><text x="275.4" y="689">355</text>
<rect class="g" x="291" y="682" width="31.2" height="14"/><text x="306.6" y="688.5">354</text>
<rect class="g" x="322.2" y="683" width="31.2" height="14"/><text x="337.8" y="689.5">353</text>
<rect class="g" x="353.4" y="682" width="31.2" height="14"/><text x="369" y="689">352</text>
<rect class="g" x="384.6" y="682" width="31.2" height="14"/><text x="400.2" y="689">351</text>
<rect class="g" x="415.8" y="682" width="31.2" height="14"/><text x="431.4" y="688.5">350</text>
<rect class="g" x="447" y="682" width="31.2" height="14"/><text x="462.6" y="689">349</text>
<rect class="g" x="478.2" y="681" width="31.2" height="14"/><text x="493.8" y="688">348</text>
<rect class="g" x="509.4" y="683" width="31.2" height="14"/><text x="525" y="690">347</text>
<rect class="g" x="540.6" y="683" width="31.2" height="14"/><text x="556.2" y="690">346</text>
<rect class="g" x="571.8" y="682" width="31.2" height="14"/><text x="587.4" y="689">345</text>
<rect class="g" x="603" y="684" width="31.2" height="14"/><text x="618.6" y="691">344</text>
<rect class="g" x="634.2" y="684" width="31.2" height="14"/><text x="649.8" y="691">343</text>
<rect class="g" x="665.4" y="684" width="31.2" height="14"/><text x="681" y="690.5">342</text>
</g>
<!-- bottom row -->
<rect class="g" x="198" y="736" width="31" height="14"/><text x="213.5" y="743">361</text>
<rect class="g" x="229" y="736" width="31" height="14"/><text x="244.5" y="743">362</text>
<rect class="g" x="277" y="735" width="31" height="14"/><text x="292.5" y="741.5">363</text>
<rect class="g" x="309" y="735" width="31" height="14"/><text x="324.5" y="741.5">364</text>
<rect class="g" x="357" y="735" width="31" height="14"/><text x="372.5" y="741.5">365</text>
<rect class="g" x="389" y="735" width="31" height="14"/><text x="404.5" y="741.5">366</text>
<rect class="g" x="436" y="735" width="32" height="14"/><text x="452" y="742">367</text>
<rect class="g" x="468" y="735" width="31" height="14"/><text x="483.5" y="742">368</text>
<rect class="g" x="516" y="735" width="32" height="14"/><text x="532" y="741.5">369</text>
<rect class="g" x="548" y="735" width="31" height="14"/><text x="563.5" y="741.5">370</text>
<rect class="g" x="599" y="735" width="31" height="14"/><text x="614.5" y="741.5">371</text>
<rect class="g" x="631" y="735" width="31" height="14"/><text x="646.5" y="741.5">372</text>
<rect class="g" x="678" y="736" width="32" height="14"/><text x="694" y="742.5">373</text>
<rect class="g" x="710" y="736" width="31" height="14"/><text x="725.5" y="742.5">374</text>
</svg>
</body></html>
